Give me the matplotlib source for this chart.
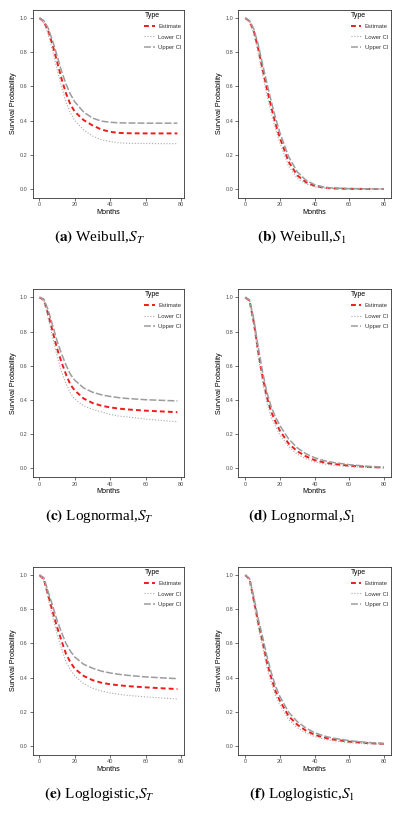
import matplotlib
matplotlib.use("Agg")
from matplotlib import pyplot as plt

plt.rcParams['font.family'] = ['Liberation Sans', 'DejaVu Sans']
plt.rcParams['mathtext.fontset'] = 'stix'

months_T = [0, 2.5, 5, 7.5, 10, 12.5, 15, 17.5, 20, 25, 30, 35, 40, 45, 50, 60, 70, 78]
months_1 = [0, 2.5, 5, 7.5, 10, 12.5, 15, 17.5, 20, 25, 30, 35, 40, 45, 50, 60, 70, 80]

# (a) Weibull, S_T
weib_T_est = [1, 0.98, 0.925, 0.84, 0.745, 0.645, 0.56, 0.495, 0.452, 0.403, 0.372, 0.348, 0.334, 0.328, 0.326, 0.325, 0.325, 0.325]
weib_T_low = [1, 0.97, 0.905, 0.805, 0.70, 0.60, 0.51, 0.445, 0.40, 0.345, 0.31, 0.288, 0.277, 0.27, 0.267, 0.266, 0.265, 0.265]
weib_T_up = [1, 0.985, 0.94, 0.865, 0.78, 0.69, 0.615, 0.555, 0.51, 0.45, 0.415, 0.397, 0.39, 0.387, 0.386, 0.385, 0.385, 0.385]

# (b) Weibull, S_1
weib_1_est = [1, 0.98, 0.92, 0.82, 0.70, 0.585, 0.48, 0.38, 0.30, 0.16, 0.08, 0.04, 0.018, 0.008, 0.003, 0.001, 0, 0]
weib_1_low = [1, 0.975, 0.905, 0.795, 0.67, 0.55, 0.445, 0.35, 0.27, 0.135, 0.063, 0.03, 0.012, 0.005, 0.002, 0, 0, 0]
weib_1_up = [1, 0.985, 0.935, 0.845, 0.73, 0.62, 0.515, 0.415, 0.33, 0.19, 0.10, 0.052, 0.025, 0.012, 0.006, 0.002, 0.001, 0]

# (c) Lognormal, S_T
logn_T_est = [1, 0.985, 0.90, 0.80, 0.70, 0.62, 0.55, 0.49, 0.455, 0.408, 0.382, 0.366, 0.356, 0.349, 0.344, 0.337, 0.332, 0.328]
logn_T_low = [1, 0.98, 0.875, 0.765, 0.655, 0.565, 0.495, 0.44, 0.405, 0.365, 0.345, 0.33, 0.315, 0.305, 0.30, 0.288, 0.279, 0.272]
logn_T_up = [1, 0.99, 0.925, 0.835, 0.745, 0.67, 0.605, 0.55, 0.515, 0.47, 0.445, 0.43, 0.42, 0.413, 0.408, 0.401, 0.397, 0.394]

# (d) Lognormal, S_1
logn_1_est = [1, 0.98, 0.85, 0.68, 0.535, 0.415, 0.33, 0.272, 0.22, 0.145, 0.10, 0.07, 0.048, 0.035, 0.026, 0.015, 0.008, 0.004]
logn_1_low = [1, 0.975, 0.83, 0.65, 0.505, 0.385, 0.30, 0.245, 0.195, 0.127, 0.083, 0.056, 0.037, 0.026, 0.018, 0.009, 0.004, 0.002]
logn_1_up = [1, 0.985, 0.87, 0.71, 0.565, 0.445, 0.36, 0.30, 0.25, 0.172, 0.12, 0.085, 0.062, 0.046, 0.035, 0.021, 0.012, 0.007]

# (e) Loglogistic, S_T
logl_T_est = [1, 0.975, 0.88, 0.785, 0.695, 0.615, 0.54, 0.49, 0.452, 0.41, 0.385, 0.37, 0.361, 0.355, 0.35, 0.343, 0.337, 0.333]
logl_T_low = [1, 0.97, 0.86, 0.755, 0.655, 0.57, 0.495, 0.445, 0.41, 0.365, 0.338, 0.322, 0.31, 0.302, 0.296, 0.287, 0.28, 0.275]
logl_T_up = [1, 0.985, 0.90, 0.82, 0.735, 0.665, 0.60, 0.555, 0.52, 0.478, 0.455, 0.438, 0.427, 0.419, 0.413, 0.404, 0.398, 0.394]

# (f) Loglogistic, S_1
logl_1_est = [1, 0.975, 0.85, 0.72, 0.61, 0.49, 0.40, 0.32, 0.265, 0.175, 0.125, 0.09, 0.066, 0.05, 0.039, 0.025, 0.017, 0.012]
logl_1_low = [1, 0.97, 0.83, 0.695, 0.58, 0.46, 0.37, 0.295, 0.24, 0.155, 0.107, 0.076, 0.055, 0.041, 0.031, 0.019, 0.012, 0.009]
logl_1_up = [1, 0.98, 0.87, 0.745, 0.64, 0.525, 0.43, 0.35, 0.29, 0.198, 0.143, 0.105, 0.078, 0.06, 0.047, 0.031, 0.021, 0.015]

panels = [
    (months_T, weib_T_est, weib_T_low, weib_T_up, "(a)", "Weibull,", "T"),
    (months_1, weib_1_est, weib_1_low, weib_1_up, "(b)", "Weibull,", "1"),
    (months_T, logn_T_est, logn_T_low, logn_T_up, "(c)", "Lognormal,", "T"),
    (months_1, logn_1_est, logn_1_low, logn_1_up, "(d)", "Lognormal,", "1"),
    (months_T, logl_T_est, logl_T_low, logl_T_up, "(e)", "Loglogistic,", "T"),
    (months_1, logl_1_est, logl_1_low, logl_1_up, "(f)", "Loglogistic,", "1"),
]

W, H = 404, 814
fig = plt.figure(figsize=(W / 100, H / 100), dpi=100)

col_left = [32.5, 238.3]
col_width = [151.8, 152.4]
row_bottom = [197.5, 476.8, 754.5]
row_height = 188
cap_x = [99, 302]
cap_y = [237, 516, 794]

for i, (m, est, low, up, tag, name, sub) in enumerate(panels):
    r, c = divmod(i, 2)
    ax = fig.add_axes([col_left[c] / W, 1 - row_bottom[r] / H,
                       col_width[c] / W, row_height / H])
    ax.plot(m, est, color="#ee1c1c", lw=1.4, linestyle=(0, (2.5, 1.6)), label="Estimate")
    ax.plot(m, low, color="#a8a8a8", lw=0.8, linestyle=(0, (1, 1.6)), label="Lower CI")
    ax.plot(m, up, color="#9c9c9c", lw=1.1, linestyle=(0, (4.5, 1.4)), label="Upper CI")

    xmax = m[-1]
    ax.set_xlim(-0.05 * xmax, xmax * 1.05)
    ax.set_ylim(-0.05, 1.05)
    ax.set_xticks([0, 20, 40, 60, 80])
    ax.set_yticks([0, 0.2, 0.4, 0.6, 0.8, 1.0])
    ax.set_yticklabels(["0.0", "0.2", "0.4", "0.6", "0.8", "1.0"])
    ax.tick_params(length=2, width=0.5, color="#333333", labelsize=4,
                   labelcolor="#4d4d4d", pad=1.5)
    for s in ax.spines.values():
        s.set_color("#333333")
        s.set_linewidth(0.6)
    ax.set_xlabel("Months", fontsize=5.2, labelpad=1)
    ax.set_ylabel("Survival Probability", fontsize=5.2, labelpad=2)

    leg = ax.legend(loc="upper right", frameon=False, title="Type",
                    fontsize=4.2, title_fontsize=5.0, handlelength=1.8,
                    handletextpad=0.6, labelspacing=0.9, borderaxespad=0.1,
                    borderpad=0.3, alignment="left")
    for t in leg.get_texts():
        t.set_color("#333333")

    fig.text(cap_x[c] / W, 1 - cap_y[r] / H,
             r"$\mathbf{" + tag + "}$ " + name + r"$S_{" + sub + "}$",
             family="Liberation Serif", fontsize=11, ha="center", va="center")

fig.savefig("out.png", dpi=100)
